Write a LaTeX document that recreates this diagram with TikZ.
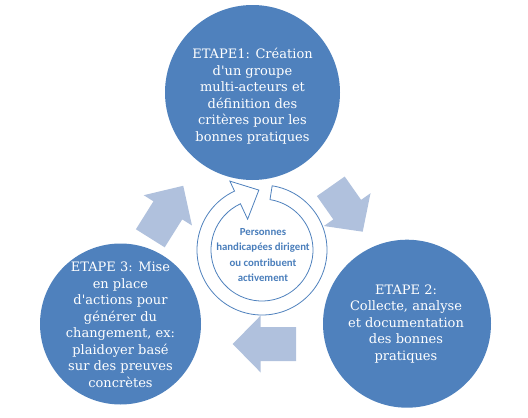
\documentclass[tikz,border=0pt]{standalone}
\usepackage{fontspec}
\setmainfont{DejaVu Serif}
\newfontfamily\ringfont{Carlito}
\definecolor{stepblue}{HTML}{4F81BD}
\definecolor{arrowblue}{HTML}{B0C1DD}
\definecolor{ringtext}{HTML}{4A7EBB}
\tikzset{
  stepcircle/.style={circle, fill=stepblue, draw=none, inner sep=0pt},
  steptext/.style={text=white, align=center, inner sep=0pt, font=\fontsize{13}{16.5}\selectfont},
  arrowfill/.style={fill=arrowblue},
  ringline/.style={draw=stepblue, line width=0.8pt, fill=white, line join=miter},
  ringlabel/.style={text=ringtext, align=center, inner sep=0pt, font=\ringfont\bfseries\fontsize{10.8}{15.2}\selectfont}
}
% base x, base y, angle, length, head length
\newcommand\blockarr[5]{%
  \fill[arrowfill, shift={(#1,#2)}, rotate=#3]
    (0,-17) -- ({#4-#5},-17) -- ({#4-#5},-28.5) -- (#4,0) -- ({#4-#5},28.5) -- ({#4-#5},17) -- (0,17) -- cycle;}
\begin{document}
\begin{tikzpicture}[x=1pt, y=-1pt]
\useasboundingbox (0,0) rectangle (528,418);
% step circles
\node[stepcircle, minimum size=175pt] (e1) at (252.5,92.5) {};
\node[stepcircle, minimum size=168pt] (e2) at (407,323.7) {};
\node[stepcircle, minimum size=161pt] (e3) at (120.5,324) {};
\node[steptext] (t1) at (252.5,96) {ETAPE1: Création\\d\textquotesingle un groupe\\multi-acteurs et\\définition des\\critères pour les\\bonnes pratiques};
\node[steptext] (t2) at (406,324) {ETAPE 2:\\Collecte, analyse\\et documentation\\des bonnes\\pratiques};
\node[steptext] (t3) at (120.5,325) {ETAPE 3: Mise\\en place\\d\textquotesingle actions pour\\générer du\\changement, ex:\\plaidoyer basé\\sur des preuves\\concrètes};
% block arrows
\blockarr{150.3}{238.3}{57.9}{62}{29}
\blockarr{330.8}{186.3}{-54.9}{55.5}{27}
\blockarr{296}{344}{180}{63.3}{28}
% central circular arrow
\begin{scope}[shift={(262,250)}, y=1pt]
  \path[ringline] (81:65) arc[start angle=81, end angle=-245, radius=65]
    -- (115:76) -- (93:60) -- (115:34) -- (115:51)
    arc[start angle=115, end angle=441, radius=51] -- cycle;
\end{scope}
\node[ringlabel] (core) at (263,255) {Personnes\\handicapées dirigent\\ou contribuent\\activement};
\end{tikzpicture}
\end{document}
